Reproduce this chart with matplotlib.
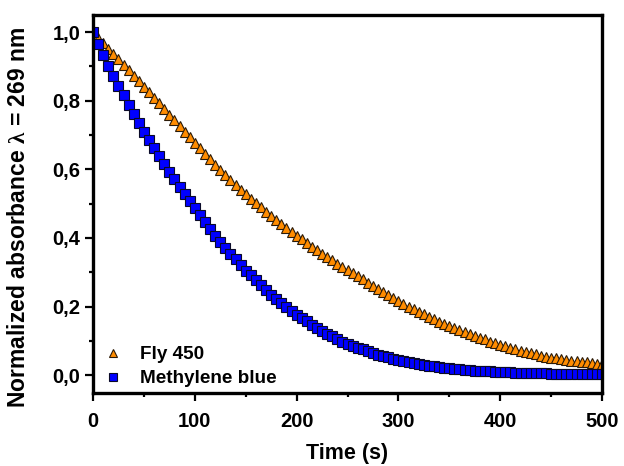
import matplotlib
matplotlib.use("Agg")
import matplotlib.pyplot as plt

# ---------------- data ----------------
time_s = [0, 5, 10, 15, 20, 25, 30, 35, 40, 45, 50, 55, 60, 65, 70, 75, 80, 85, 90, 95,
          100, 105, 110, 115, 120, 125, 130, 135, 140, 145, 150, 155, 160, 165, 170, 175,
          180, 185, 190, 195, 200, 205, 210, 215, 220, 225, 230, 235, 240, 245, 250, 255,
          260, 265, 270, 275, 280, 285, 290, 295, 300, 305, 310, 315, 320, 325, 330, 335,
          340, 345, 350, 355, 360, 365, 370, 375, 380, 385, 390, 395, 400, 405, 410, 415,
          420, 425, 430, 435, 440, 445, 450, 455, 460, 465, 470, 475, 480, 485, 490, 495, 500]

fly450 = [1.000, .984, .968, .952, .937, .921, .905, .889, .873, .857, .841,
          .825, .808, .792, .775, .759, .743, .726, .710, .693, .677,
          .661, .645, .629, .613, .598, .584, .569, .555, .541, .527,
          .514, .501, .489, .476, .463, .452, .440, .429, .417, .406,
          .396, .385, .375, .364, .354, .344, .335, .325, .316, .306,
          .297, .288, .279, .270, .261, .252, .243, .234, .225, .216,
          .208, .200, .192, .184, .177, .170, .163, .156, .149, .143,
          .137, .131, .125, .119, .114, .109, .104, .098, .093, .088,
          .084, .080, .075, .071, .067, .064, .061, .057, .054, .051,
          .049, .047, .044, .042, .040, .038, .037, .035, .034, .032]

methylene_blue = [1.000, .966, .933, .901, .871, .843, .816, .789, .762, .735, .709,
                  .685, .662, .639, .616, .593, .571, .550, .528, .507, .486,
                  .466, .446, .427, .407, .388, .371, .354, .338, .321, .305,
                  .291, .277, .263, .249, .235, .223, .211, .199, .188, .176,
                  .166, .157, .147, .138, .128, .120, .113, .105, .098, .091,
                  .085, .080, .075, .069, .064, .060, .056, .052, .048, .0445,
                  .041, .038, .036, .033, .030, .028, .026, .024, .022, .020,
                  .0187, .0174, .0161, .0148, .0135, .0126, .0118, .0109, .0101, .0092,
                  .0087, .0081, .0076, .0070, .0065, .0062, .0058, .0055, .0051, .0048,
                  .0046, .0044, .0042, .0040, .0038, .0037, .0036, .0035, .0033, .0032]

series_labels = ["Fly 450", "Methylene blue"]
x_ticks = [0, 100, 200, 300, 400, 500]
x_ticklabels = ["0", "100", "200", "300", "400", "500"]
y_ticks = [0.0, 0.2, 0.4, 0.6, 0.8, 1.0]
y_ticklabels = ["0,0", "0,2", "0,4", "0,6", "0,8", "1,0"]
x_minor = [50, 150, 250, 350, 450]
y_minor = [0.1, 0.3, 0.5, 0.7, 0.9]

# ---------------- style ----------------
plt.rcParams["font.family"] = ["Liberation Sans", "DejaVu Sans"]
plt.rcParams["font.weight"] = "bold"
plt.rcParams["mathtext.fontset"] = "custom"
plt.rcParams["mathtext.rm"] = "Liberation Serif"
plt.rcParams["mathtext.it"] = "Liberation Serif"

fig = plt.figure(figsize=(6.24, 4.66), dpi=100, facecolor="white")
ax = fig.add_axes([93 / 624, 1 - 393 / 466, (602 - 93) / 624, (393 - 15) / 466])

ax.plot(time_s, fly450, linestyle="none", marker="^", markersize=7.6,
        markerfacecolor="#ff8c00", markeredgecolor="#2a1a08", markeredgewidth=0.8,
        label=series_labels[0])
ax.plot(time_s, methylene_blue, linestyle="none", marker="s", markersize=6.7,
        markerfacecolor="#0000ff", markeredgecolor="#0a0a28", markeredgewidth=0.8,
        label=series_labels[1])

ax.set_xlim(0, 500)
ax.set_ylim(-0.052, 1.05)

ax.set_xticks(x_ticks)
ax.set_xticklabels(x_ticklabels)
ax.set_yticks(y_ticks)
ax.set_yticklabels(y_ticklabels)
ax.set_xticks(x_minor, minor=True)
ax.set_yticks(y_minor, minor=True)

ax.tick_params(axis="both", which="major", direction="out", length=5.5, width=1.6,
               labelsize=14.5, colors="black")
ax.tick_params(axis="both", which="minor", direction="out", length=3.2, width=1.6)
ax.tick_params(axis="x", which="major", pad=8)
ax.tick_params(axis="y", which="major", pad=3.5)
for lab in ax.get_xticklabels() + ax.get_yticklabels():
    lab.set_fontweight("bold")

for sp in ax.spines.values():
    sp.set_linewidth(2.4)
    sp.set_color("black")

ax.set_xlabel("Time (s)", fontsize=15.5, fontweight="bold")
ax.set_ylabel(r"Normalized absorbance $\mathrm{\lambda}$ = 269 nm", fontsize=16.5, fontweight="bold")
ax.xaxis.set_label_coords(0.5, (393 - 443) / 378)
ax.yaxis.set_label_coords((30 - 93) / 509, (393 - 217.5) / 378)

leg = ax.legend(loc="lower left", frameon=False, fontsize=13.6, handlelength=1.0,
                handletextpad=0.93, labelspacing=0.37, borderaxespad=0.0,
                bbox_to_anchor=(0.006, -0.005), markerscale=0.77)
for t in leg.get_texts():
    t.set_fontweight("bold")

fig.savefig("out.png", dpi=100, facecolor="white")
